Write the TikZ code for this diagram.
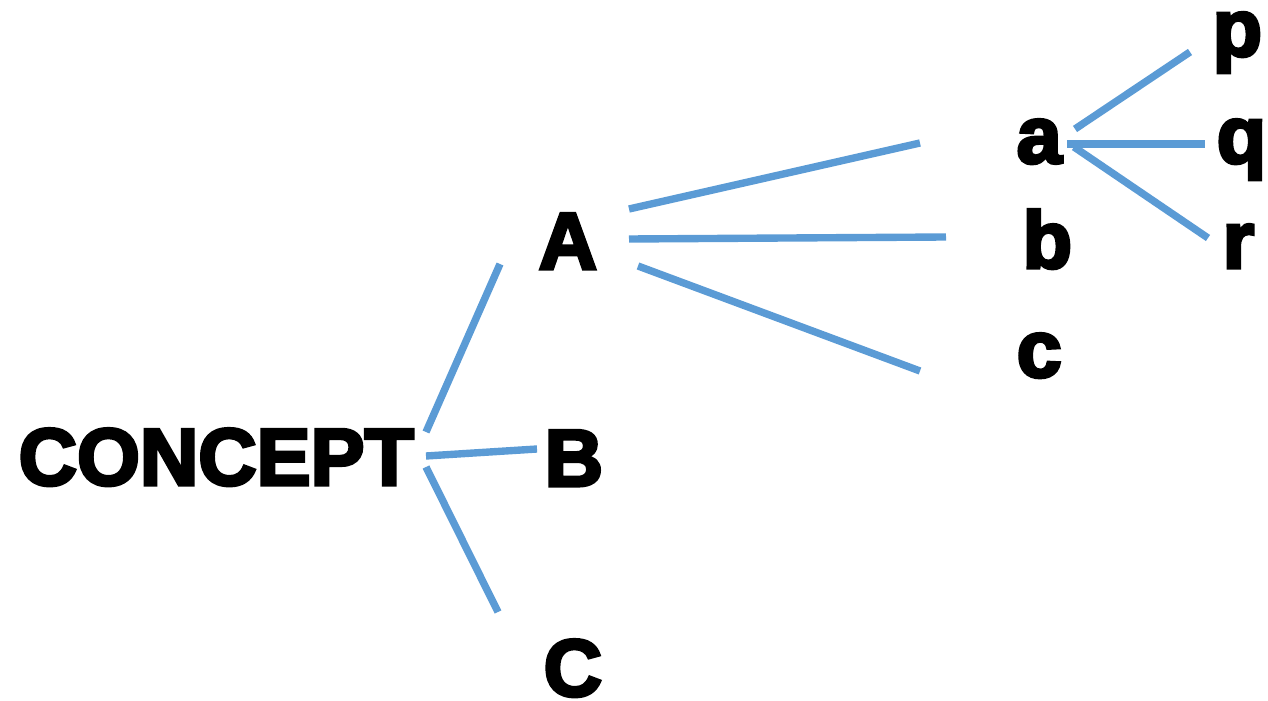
\documentclass[tikz,border=0pt]{standalone}
\usepackage{fontspec}
\setmainfont{Liberation Sans}[BoldFeatures={FakeBold=4}]
\definecolor{branch}{HTML}{5B9BD5}
\begin{document}
\begin{tikzpicture}[x=0.1mm,y=-0.1mm,
  word/.style={inner sep=0pt,anchor=base west,font=\fontsize{23}{26}\selectfont\bfseries},
  link/.style={draw=branch,line width=2.1pt}]
\useasboundingbox (0,0) rectangle (1268,701);
% terms of the tree
\node[word] (concept) at (18,485) {CONCEPT};
\node[word] (A) at (538,269) {A};
\node[word] (B) at (544,486) {B};
\node[word] (C) at (543,696) {C};
\node[word] (a) at (1016,163) {a};
\node[word] (b) at (1022,268) {b};
\node[word] (c) at (1016,377) {c};
\node[word] (p) at (1212,56) {p};
\node[word] (q) at (1216,163) {q};
\node[word] (r) at (1222,268) {r};
% free ends of the branches
\coordinate (cA0) at (426,432); \coordinate (cA1) at (500,264);
\coordinate (cB0) at (426,456); \coordinate (cB1) at (537,449);
\coordinate (cC0) at (426,467); \coordinate (cC1) at (498,612);
\coordinate (Aa0) at (629,209); \coordinate (Aa1) at (920,143);
\coordinate (Ab0) at (629,239); \coordinate (Ab1) at (946,237);
\coordinate (Ac0) at (638,266); \coordinate (Ac1) at (920,371);
\coordinate (ap0) at (1075,129); \coordinate (ap1) at (1190,52);
\coordinate (aq0) at (1067,144); \coordinate (aq1) at (1205,144);
\coordinate (ar0) at (1074,147); \coordinate (ar1) at (1208,238);
% branches
\draw[link] (cA0) -- (cA1);
\draw[link] (cB0) -- (cB1);
\draw[link] (cC0) -- (cC1);
\draw[link] (Aa0) -- (Aa1);
\draw[link] (Ab0) -- (Ab1);
\draw[link] (Ac0) -- (Ac1);
\draw[link] (ap0) -- (ap1);
\draw[link] (aq0) -- (aq1);
\draw[link] (ar0) -- (ar1);
\end{tikzpicture}
\end{document}
